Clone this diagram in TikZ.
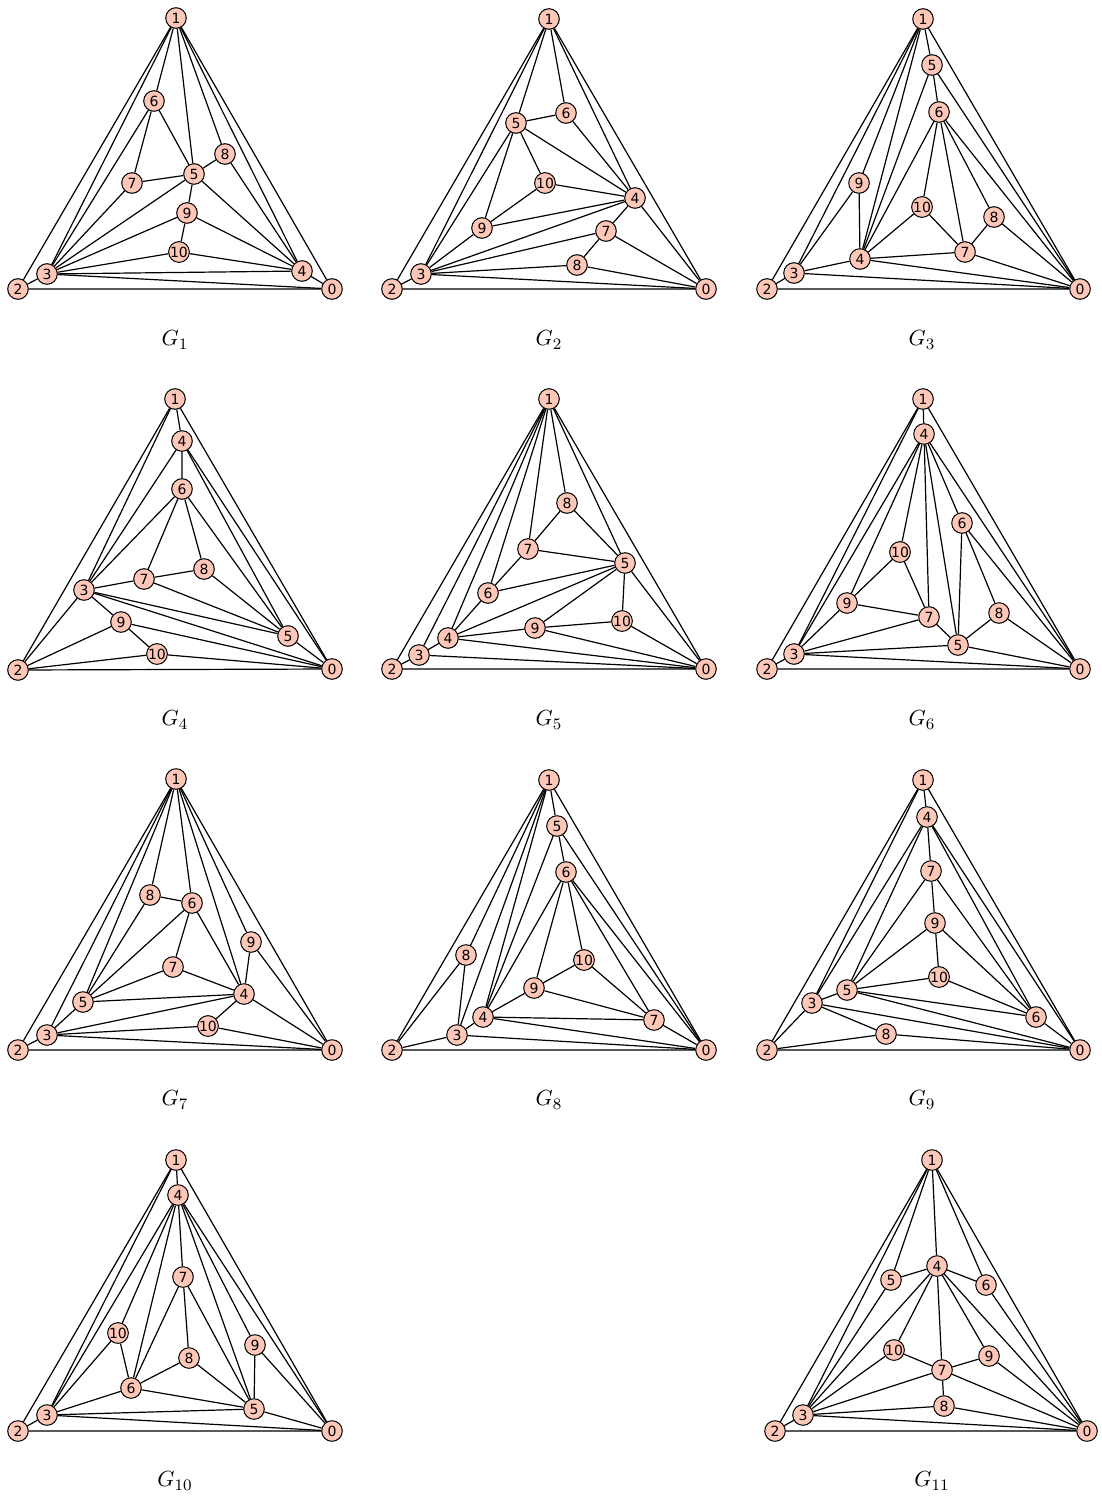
\documentclass[tikz,border=0pt]{standalone}
\usepackage{amsmath}
\usepackage{fontspec}
\newfontfamily\vxfont{DejaVu Sans}
\usepackage{tikz}
\usetikzlibrary{positioning}
\definecolor{vxfill}{HTML}{FEC7B8}

\begin{document}
\begin{tikzpicture}[x=0.5pt,y=-0.5pt,line width=0.6pt,
  vx/.style={circle,draw,fill=vxfill,line width=0.5pt,minimum size=10.3pt,inner sep=0pt,
    font=\vxfont\fontsize{7}{8}\selectfont},
  lbl/.style={font=\fontsize{11}{13}\selectfont}]
\useasboundingbox (0,0) rectangle (1102,1499);
% G1
\node[vx] (a0) at (332,289) {0}; \node[vx] (a1) at (176,18) {1}; \node[vx] (a2) at (18,289) {2};
\node[vx] (a3) at (47,274) {3}; \node[vx] (a4) at (302,271) {4}; \node[vx] (a5) at (194,174) {5};
\node[vx] (a6) at (154,101) {6}; \node[vx] (a7) at (132,183) {7}; \node[vx] (a8) at (225,154) {8};
\node[vx] (a9) at (187,213) {9}; \node[vx] (a10) at (179,252) {10};
\draw (a1) -- (a2) -- (a0) -- (a1);
\draw (a1) -- (a3) -- (a0) (a2) -- (a3);
\draw (a0) -- (a4) -- (a1) (a3) -- (a4);
\draw (a1) -- (a5) -- (a3) (a5) -- (a4);
\draw (a1) -- (a6) -- (a3) (a6) -- (a5);
\draw (a6) -- (a7) -- (a3) (a7) -- (a5);
\draw (a1) -- (a8) -- (a5) (a8) -- (a4);
\draw (a3) -- (a9) -- (a5) (a9) -- (a4);
\draw (a3) -- (a10) -- (a9) (a10) -- (a4);
\node[lbl] (l1) at (175,340) {$G_{1}$};
% G2
\node[vx] (b0) at (706,289) {0}; \node[vx] (b1) at (549,19) {1}; \node[vx] (b2) at (392,289) {2};
\node[vx] (b3) at (421,274) {3}; \node[vx] (b4) at (635,198) {4}; \node[vx] (b5) at (516,123) {5};
\node[vx] (b6) at (566,113) {6}; \node[vx] (b7) at (606,231) {7}; \node[vx] (b8) at (577,265) {8};
\node[vx] (b9) at (482,228) {9}; \node[vx] (b10) at (545,183) {10};
\draw (b1) -- (b2) -- (b0) -- (b1);
\draw (b1) -- (b3) -- (b0) (b2) -- (b3);
\draw (b1) -- (b4) -- (b3) (b4) -- (b0);
\draw (b1) -- (b5) -- (b3) (b5) -- (b4);
\draw (b1) -- (b6) -- (b5) (b6) -- (b4);
\draw (b3) -- (b7) -- (b4) (b7) -- (b0);
\draw (b3) -- (b8) -- (b7) (b8) -- (b0);
\draw (b3) -- (b9) -- (b5) (b9) -- (b4);
\draw (b9) -- (b10) -- (b5) (b10) -- (b4);
\node[lbl] (l2) at (549,340) {$G_{2}$};
% G3
\node[vx] (c0) at (1080,289) {0}; \node[vx] (c1) at (923,19) {1}; \node[vx] (c2) at (767,289) {2};
\node[vx] (c3) at (794,273) {3}; \node[vx] (c4) at (860,259) {4}; \node[vx] (c5) at (932,65) {5};
\node[vx] (c6) at (939,112) {6}; \node[vx] (c7) at (965,252) {7}; \node[vx] (c8) at (994,217) {8};
\node[vx] (c9) at (859,183) {9}; \node[vx] (c10) at (922,207) {10};
\draw (c1) -- (c2) -- (c0) -- (c1);
\draw (c1) -- (c3) -- (c0) (c2) -- (c3);
\draw (c1) -- (c4) -- (c3) (c4) -- (c0);
\draw (c1) -- (c5) -- (c4) (c5) -- (c0);
\draw (c5) -- (c6) -- (c4) (c6) -- (c0);
\draw (c6) -- (c7) -- (c4) (c7) -- (c0);
\draw (c6) -- (c8) -- (c7) (c8) -- (c0);
\draw (c1) -- (c9) -- (c3) (c9) -- (c4);
\draw (c6) -- (c10) -- (c4) (c10) -- (c7);
\node[lbl] (l3) at (922,340) {$G_{3}$};
% G4
\node[vx] (d0) at (332,669) {0}; \node[vx] (d1) at (175,399) {1}; \node[vx] (d2) at (18,670) {2};
\node[vx] (d3) at (84,590) {3}; \node[vx] (d4) at (182,441) {4}; \node[vx] (d5) at (288,636) {5};
\node[vx] (d6) at (182,489) {6}; \node[vx] (d7) at (144,579) {7}; \node[vx] (d8) at (204,569) {8};
\node[vx] (d9) at (121,622) {9}; \node[vx] (d10) at (157,654) {10};
\draw (d1) -- (d2) -- (d0) -- (d1);
\draw (d1) -- (d3) -- (d0) (d2) -- (d3);
\draw (d1) -- (d4) -- (d3) (d4) -- (d0);
\draw (d4) -- (d5) -- (d3) (d5) -- (d0);
\draw (d4) -- (d6) -- (d3) (d6) -- (d5);
\draw (d6) -- (d7) -- (d3) (d7) -- (d5);
\draw (d6) -- (d8) -- (d7) (d8) -- (d5);
\draw (d3) -- (d9) -- (d2) (d9) -- (d0);
\draw (d9) -- (d10) -- (d2) (d10) -- (d0);
\node[lbl] (l4) at (175,720) {$G_{4}$};
% G5
\node[vx] (e0) at (706,669) {0}; \node[vx] (e1) at (549,399) {1}; \node[vx] (e2) at (392,669) {2};
\node[vx] (e3) at (419,655) {3}; \node[vx] (e4) at (448,638) {4}; \node[vx] (e5) at (625,563) {5};
\node[vx] (e6) at (488,593) {6}; \node[vx] (e7) at (528,549) {7}; \node[vx] (e8) at (567,503) {8};
\node[vx] (e9) at (535,628) {9}; \node[vx] (e10) at (622,621) {10};
\draw (e1) -- (e2) -- (e0) -- (e1);
\draw (e1) -- (e3) -- (e0) (e2) -- (e3);
\draw (e1) -- (e4) -- (e3) (e4) -- (e0);
\draw (e1) -- (e5) -- (e4) (e5) -- (e0);
\draw (e1) -- (e6) -- (e4) (e6) -- (e5);
\draw (e1) -- (e7) -- (e6) (e7) -- (e5);
\draw (e1) -- (e8) -- (e7) (e8) -- (e5);
\draw (e4) -- (e9) -- (e5) (e9) -- (e0);
\draw (e9) -- (e10) -- (e5) (e10) -- (e0);
\node[lbl] (l5) at (549,720) {$G_{5}$};
% G6
\node[vx] (f0) at (1080,669) {0}; \node[vx] (f1) at (923,399) {1}; \node[vx] (f2) at (767,669) {2};
\node[vx] (f3) at (794,654) {3}; \node[vx] (f4) at (924,434) {4}; \node[vx] (f5) at (958,645) {5};
\node[vx] (f6) at (962,523) {6}; \node[vx] (f7) at (929,617) {7}; \node[vx] (f8) at (999,613) {8};
\node[vx] (f9) at (847,603) {9}; \node[vx] (f10) at (900,552) {10};
\draw (f1) -- (f2) -- (f0) -- (f1);
\draw (f1) -- (f3) -- (f0) (f2) -- (f3);
\draw (f1) -- (f4) -- (f3) (f4) -- (f0);
\draw (f4) -- (f5) -- (f3) (f5) -- (f0);
\draw (f4) -- (f6) -- (f5) (f6) -- (f0);
\draw (f4) -- (f7) -- (f3) (f7) -- (f5);
\draw (f6) -- (f8) -- (f5) (f8) -- (f0);
\draw (f4) -- (f9) -- (f3) (f9) -- (f7);
\draw (f4) -- (f10) -- (f9) (f10) -- (f7);
\node[lbl] (l6) at (922,720) {$G_{6}$};
% G7
\node[vx] (g0) at (332,1050) {0}; \node[vx] (g1) at (176,779) {1}; \node[vx] (g2) at (18,1050) {2};
\node[vx] (g3) at (47,1035) {3}; \node[vx] (g4) at (244,994) {4}; \node[vx] (g5) at (83,1002) {5};
\node[vx] (g6) at (192,903) {6}; \node[vx] (g7) at (173,967) {7}; \node[vx] (g8) at (150,895) {8};
\node[vx] (g9) at (251,942) {9}; \node[vx] (g10) at (208,1026) {10};
\draw (g1) -- (g2) -- (g0) -- (g1);
\draw (g1) -- (g3) -- (g0) (g2) -- (g3);
\draw (g1) -- (g4) -- (g3) (g4) -- (g0);
\draw (g1) -- (g5) -- (g3) (g5) -- (g4);
\draw (g1) -- (g6) -- (g5) (g6) -- (g4);
\draw (g6) -- (g7) -- (g5) (g7) -- (g4);
\draw (g1) -- (g8) -- (g5) (g8) -- (g6);
\draw (g1) -- (g9) -- (g4) (g9) -- (g0);
\draw (g3) -- (g10) -- (g4) (g10) -- (g0);
\node[lbl] (l7) at (175,1100) {$G_{7}$};
% G8
\node[vx] (h0) at (706,1050) {0}; \node[vx] (h1) at (549,780) {1}; \node[vx] (h2) at (392,1050) {2};
\node[vx] (h3) at (457,1035) {3}; \node[vx] (h4) at (483,1017) {4}; \node[vx] (h5) at (557,826) {5};
\node[vx] (h6) at (566,872) {6}; \node[vx] (h7) at (654,1020) {7}; \node[vx] (h8) at (466,955) {8};
\node[vx] (h9) at (534,988) {9}; \node[vx] (h10) at (584,960) {10};
\draw (h1) -- (h2) -- (h0) -- (h1);
\draw (h1) -- (h3) -- (h0) (h2) -- (h3);
\draw (h1) -- (h4) -- (h3) (h4) -- (h0);
\draw (h1) -- (h5) -- (h4) (h5) -- (h0);
\draw (h5) -- (h6) -- (h4) (h6) -- (h0);
\draw (h6) -- (h7) -- (h4) (h7) -- (h0);
\draw (h1) -- (h8) -- (h2) (h8) -- (h3);
\draw (h6) -- (h9) -- (h4) (h9) -- (h7);
\draw (h6) -- (h10) -- (h9) (h10) -- (h7);
\node[lbl] (l8) at (549,1100) {$G_{8}$};
% G9
\node[vx] (i0) at (1080,1050) {0}; \node[vx] (i1) at (923,780) {1}; \node[vx] (i2) at (767,1050) {2};
\node[vx] (i3) at (812,1003) {3}; \node[vx] (i4) at (927,817) {4}; \node[vx] (i5) at (847,990) {5};
\node[vx] (i6) at (1036,1017) {6}; \node[vx] (i7) at (931,871) {7}; \node[vx] (i8) at (886,1034) {8};
\node[vx] (i9) at (935,923) {9}; \node[vx] (i10) at (939,977) {10};
\draw (i1) -- (i2) -- (i0) -- (i1);
\draw (i1) -- (i3) -- (i0) (i2) -- (i3);
\draw (i1) -- (i4) -- (i3) (i4) -- (i0);
\draw (i4) -- (i5) -- (i3) (i5) -- (i0);
\draw (i4) -- (i6) -- (i5) (i6) -- (i0);
\draw (i4) -- (i7) -- (i5) (i7) -- (i6);
\draw (i3) -- (i8) -- (i2) (i8) -- (i0);
\draw (i7) -- (i9) -- (i5) (i9) -- (i6);
\draw (i9) -- (i10) -- (i5) (i10) -- (i6);
\node[lbl] (l9) at (922,1100) {$G_{9}$};
% G10
\node[vx] (j0) at (332,1431) {0}; \node[vx] (j1) at (176,1160) {1}; \node[vx] (j2) at (18,1431) {2};
\node[vx] (j3) at (47,1415) {3}; \node[vx] (j4) at (178,1195) {4}; \node[vx] (j5) at (254,1409) {5};
\node[vx] (j6) at (131,1388) {6}; \node[vx] (j7) at (183,1277) {7}; \node[vx] (j8) at (189,1358) {8};
\node[vx] (j9) at (255,1345) {9}; \node[vx] (j10) at (118,1333) {10};
\draw (j1) -- (j2) -- (j0) -- (j1);
\draw (j1) -- (j3) -- (j0) (j2) -- (j3);
\draw (j1) -- (j4) -- (j3) (j4) -- (j0);
\draw (j4) -- (j5) -- (j3) (j5) -- (j0);
\draw (j4) -- (j6) -- (j3) (j6) -- (j5);
\draw (j4) -- (j7) -- (j6) (j7) -- (j5);
\draw (j7) -- (j8) -- (j6) (j8) -- (j5);
\draw (j4) -- (j9) -- (j5) (j9) -- (j0);
\draw (j4) -- (j10) -- (j3) (j10) -- (j6);
\node[lbl] (l10) at (175,1481) {$G_{10}$};
% G11
\node[vx] (k0) at (1087,1431) {0}; \node[vx] (k1) at (932,1160) {1}; \node[vx] (k2) at (775,1431) {2};
\node[vx] (k3) at (803,1415) {3}; \node[vx] (k4) at (937,1266) {4}; \node[vx] (k5) at (891,1280) {5};
\node[vx] (k6) at (986,1285) {6}; \node[vx] (k7) at (942,1370) {7}; \node[vx] (k8) at (944,1406) {8};
\node[vx] (k9) at (989,1356) {9}; \node[vx] (k10) at (894,1350) {10};
\draw (k1) -- (k2) -- (k0) -- (k1);
\draw (k1) -- (k3) -- (k0) (k2) -- (k3);
\draw (k1) -- (k4) -- (k3) (k4) -- (k0);
\draw (k1) -- (k5) -- (k3) (k5) -- (k4);
\draw (k1) -- (k6) -- (k4) (k6) -- (k0);
\draw (k4) -- (k7) -- (k3) (k7) -- (k0);
\draw (k7) -- (k8) -- (k3) (k8) -- (k0);
\draw (k4) -- (k9) -- (k7) (k9) -- (k0);
\draw (k4) -- (k10) -- (k3) (k10) -- (k7);
\node[lbl] (l11) at (932,1481) {$G_{11}$};
\end{tikzpicture}
\end{document}
